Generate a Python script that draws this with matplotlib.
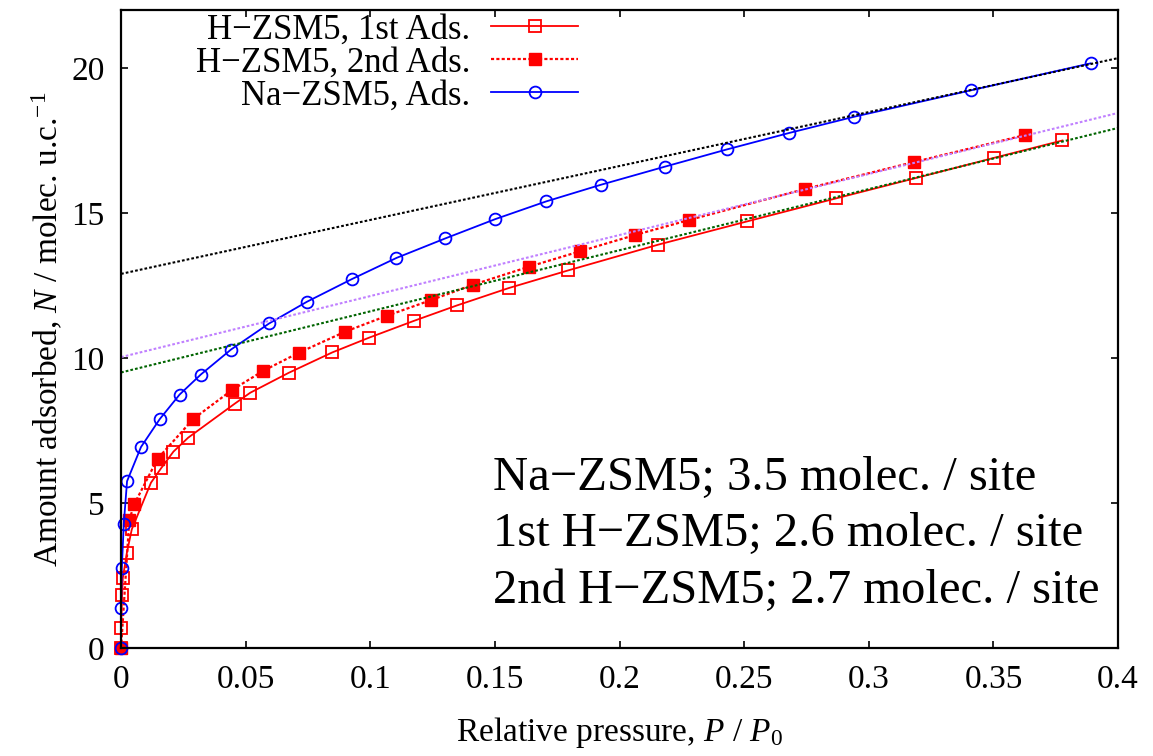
import numpy as np
import matplotlib
matplotlib.use("Agg")
import matplotlib.pyplot as plt

# H-ZSM5, first adsorption (open squares)
p_h1 = [0.0, 0.0, 0.0004, 0.0007, 0.0023, 0.0043, 0.012, 0.016, 0.021, 0.0269,
        0.0457, 0.0518, 0.0673, 0.0847, 0.0995, 0.1175, 0.1347, 0.1555, 0.1794,
        0.2156, 0.2512, 0.2867, 0.3191, 0.3502, 0.3777]
n_h1 = [0.0, 0.68, 1.81, 2.41, 3.27, 4.09, 5.70, 6.19, 6.77, 7.25,
        8.43, 8.80, 9.49, 10.19, 10.70, 11.28, 11.81, 12.41, 13.02,
        13.91, 14.71, 15.50, 16.21, 16.90, 17.50]

# H-ZSM5, second adsorption (filled squares)
p_h2 = [0.0, 0.0033, 0.0053, 0.0147, 0.029, 0.0446, 0.0571, 0.0713, 0.090, 0.1065,
        0.1245, 0.141, 0.1638, 0.1842, 0.2062, 0.228, 0.2745, 0.3183, 0.3628]
n_h2 = [0.0, 4.41, 4.96, 6.53, 7.90, 8.90, 9.56, 10.18, 10.91, 11.45,
        12.00, 12.52, 13.15, 13.68, 14.24, 14.76, 15.83, 16.76, 17.69]

# Na-ZSM5 adsorption (open circles)
p_na = [0.0, 0.0, 0.0003, 0.0011, 0.0024, 0.008, 0.0155, 0.0235, 0.032, 0.0441,
        0.0594, 0.0746, 0.0926, 0.1105, 0.130, 0.1502, 0.1706, 0.1924, 0.2183,
        0.243, 0.2681, 0.2942, 0.341, 0.389]
n_na = [0.0, 1.38, 2.75, 4.29, 5.75, 6.93, 7.89, 8.74, 9.43, 10.29,
        11.19, 11.94, 12.72, 13.45, 14.12, 14.79, 15.40, 15.97, 16.60,
        17.19, 17.76, 18.32, 19.23, 20.16]

# linear fits of the high-pressure part: intercept, slope
fit_names = ["Na", "H1", "H2"]
fit_intercept = [12.9, 9.5, 10.03]
fit_slope = [18.6, 21.08, 21.05]
fit_colors = ["black", "#006400", "#c080ff"]

labels = ["H\u2212ZSM5, 1st Ads.", "H\u2212ZSM5, 2nd Ads.", "Na\u2212ZSM5, Ads."]
notes = ["Na\u2212ZSM5; 3.5 molec. / site",
         "1st H\u2212ZSM5; 2.6 molec. / site",
         "2nd H\u2212ZSM5; 2.7 molec. / site"]

plt.rcParams["font.family"] = ["Liberation Serif", "DejaVu Serif"]
plt.rcParams["mathtext.fontset"] = "custom"
plt.rcParams["mathtext.rm"] = "Liberation Serif"
plt.rcParams["mathtext.it"] = "Liberation Serif:italic"

fig = plt.figure(figsize=(11.53, 7.56), dpi=100)
ax = fig.add_axes([0.105, 0.1429, 0.8647, 0.8439])

ax.plot(p_h1, n_h1, color="red", lw=1.3, marker="s", ms=8, mfc="none",
        mec="red", mew=1.3, label=labels[0], clip_on=False, zorder=4)
ax.plot(p_h2, n_h2, color="red", lw=1.6, ls=(0, (1.4, 1.0)), marker="s", ms=8,
        mfc="red", mec="red", label=labels[1], clip_on=False, zorder=4)
ax.plot(p_na, n_na, color="blue", lw=1.3, marker="o", ms=8.5, mfc="none",
        mec="blue", mew=1.3, label=labels[2], clip_on=False, zorder=4)

xfit = np.array([0.0, 0.4])
for b, m, c in zip(fit_intercept, fit_slope, fit_colors):
    ax.plot(xfit, b + m * xfit, color=c, lw=1.5, ls=(0, (1.3, 1.0)), zorder=5)

ax.set_xlim(0, 0.4)
ax.set_ylim(0, 22)
ax.set_xticks(np.arange(0, 0.401, 0.05))
ax.set_xticklabels(["0", "0.05", "0.1", "0.15", "0.2", "0.25", "0.3", "0.35", "0.4"])
ax.set_yticks([0, 5, 10, 15, 20])
ax.tick_params(direction="in", top=True, right=True, length=5, width=1.2,
               labelsize=24, pad=12)
for s in ax.spines.values():
    s.set_linewidth(1.6)
    s.set_zorder(6)

ax.set_xlabel(r"Relative pressure, $P$ / $P_0$", fontsize=24, labelpad=14)
ax.set_ylabel(r"Amount adsorbed, $N$ / molec. u.c.$^{-1}$", fontsize=24, labelpad=4)

ax.legend(loc="upper right", bbox_to_anchor=(0.5013, 0.982),
          bbox_transform=fig.transFigure, frameon=False, markerfirst=False,
          fontsize=25, handlelength=2.5, handletextpad=0.6, labelspacing=0.0,
          borderpad=0, borderaxespad=0)

ax.text(0.373, 0.178, "\n".join(notes), transform=ax.transAxes, fontsize=35,
        ha="left", va="center", linespacing=1.38)

fig.savefig("out.png", dpi=100)
